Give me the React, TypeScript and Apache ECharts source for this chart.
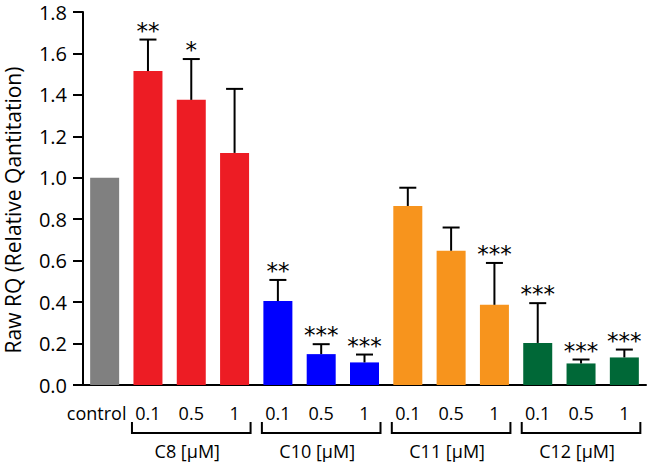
import React, { useEffect, useRef } from 'react';
import * as echarts from 'echarts';

const categories = ['control', '0.1', '0.5', '1', '0.1', '0.5', '1', '0.1', '0.5', '1', '0.1', '0.5', '1'];
const values = [1.0, 1.515, 1.376, 1.12, 0.405, 0.149, 0.109, 0.864, 0.648, 0.387, 0.203, 0.104, 0.133];
const errorTops = [null, 1.667, 1.573, 1.429, 0.507, 0.197, 0.147, 0.952, 0.76, 0.589, 0.395, 0.123, 0.171];
const stars = ['', '**', '*', '', '**', '***', '***', '', '', '***', '***', '***', '***'];
const barColors = [
  '#808080',
  '#ed1c24', '#ed1c24', '#ed1c24',
  '#0000ff', '#0000ff', '#0000ff',
  '#f7941d', '#f7941d', '#f7941d',
  '#006837', '#006837', '#006837',
];
const groupLabels = ['C8 [µM]', 'C10 [µM]', 'C11 [µM]', 'C12 [µM]'];
const groupStarts = [1, 4, 7, 10];
const yMax = 1.8;
const yInterval = 0.2;
const yTitle = 'Raw RQ (Relative Qantitation)';

const FONT = '"Open Sans", sans-serif';
const STAR_FONT = '"DejaVu Sans", sans-serif';

export default function App() {
  const ref = useRef<HTMLDivElement>(null);
  useEffect(() => {
    if (!ref.current) return;
    const chart = echarts.init(ref.current, undefined, { renderer: 'svg' });
    const errData = errorTops
      .map((t, i) => (t == null ? null : [i, t, values[i]]))
      .filter((d) => d != null);
    const starData = stars
      .map((s, i) => (s ? [i, errorTops[i] ?? values[i]] : null))
      .filter((d) => d != null);
    chart.setOption({
      animation: false,
      textStyle: { fontFamily: FONT },
      grid: { left: 83, right: 5, top: 12, bottom: 79, containLabel: false },
      xAxis: {
        type: 'category',
        data: categories,
        axisLine: { lineStyle: { color: '#000', width: 2 } },
        axisTick: { alignWithLabel: true, length: 7, lineStyle: { color: '#000', width: 2 } },
        axisLabel: {
          color: '#000',
          fontSize: 18,
          margin: 19,
          fontFamily: FONT,
          interval: 0,
          formatter: (v: string, i: number) => (i === 0 ? '{c|' + v + '}' : v),
          rich: { c: { fontSize: 18, fontFamily: FONT, color: '#000', padding: [0, 16, 0, 0] } },
        },
      },
      yAxis: {
        type: 'value',
        min: 0,
        max: yMax,
        interval: yInterval,
        axisLine: { show: true, lineStyle: { color: '#000', width: 2 } },
        axisTick: { show: true, length: 10, lineStyle: { color: '#000', width: 2 } },
        splitLine: { show: false },
        axisLabel: {
          color: '#000',
          fontSize: 20,
          lineHeight: 20,
          margin: 16,
          fontFamily: FONT,
          formatter: (v: number) => v.toFixed(1),
        },
      },
      series: [
        {
          type: 'bar',
          barWidth: 29,
          data: values.map((v, i) => ({ value: v, itemStyle: { color: barColors[i] } })),
        },
        {
          type: 'custom',
          data: errData,
          z: 3,
          renderItem: (params: any, api: any) => {
            const i = api.value(0);
            const top = api.coord([i, api.value(1)]);
            const base = api.coord([i, api.value(2)]);
            const st = { stroke: '#000', lineWidth: 2 };
            return {
              type: 'group',
              children: [
                { type: 'line', shape: { x1: top[0], y1: top[1], x2: base[0], y2: base[1] }, style: st },
                { type: 'line', shape: { x1: top[0] - 8.5, y1: top[1], x2: top[0] + 8.5, y2: top[1] }, style: st },
              ],
            };
          },
        },
        {
          type: 'custom',
          data: starData,
          z: 4,
          clip: false,
          renderItem: (params: any, api: any) => {
            const i = api.value(0);
            const p = api.coord([i, api.value(1)]);
            return {
              type: 'text',
              style: {
                text: stars[i],
                x: p[0],
                y: p[1] - 9,
                align: 'center',
                verticalAlign: 'middle',
                fontSize: 23,
                fontFamily: STAR_FONT,
                fill: '#000',
              },
            };
          },
        },
      ],
    });

    const graphics: any[] = [];
    const y0 = chart.convertToPixel({ yAxisIndex: 0 }, 0) as number;
    const half = 16;
    groupStarts.forEach((s, g) => {
      const xa = chart.convertToPixel({ xAxisIndex: 0 }, s) as number;
      const xb = chart.convertToPixel({ xAxisIndex: 0 }, s + 2) as number;
      const xm = chart.convertToPixel({ xAxisIndex: 0 }, s + 1) as number;
      graphics.push({
        type: 'polyline',
        shape: {
          points: [
            [xa - half, y0 + 37],
            [xa - half, y0 + 48],
            [xb + half, y0 + 48],
            [xb + half, y0 + 37],
          ],
        },
        style: { stroke: '#000', lineWidth: 2, fill: 'none' },
      });
      graphics.push({
        type: 'text',
        x: xm - 4,
        y: y0 + 66,
        style: {
          text: groupLabels[g],
          align: 'center',
          verticalAlign: 'middle',
          fontSize: 18,
          fontFamily: FONT,
          fill: '#000',
        },
      });
    });
    graphics.push({
      type: 'text',
      x: 13,
      y: 210,
      rotation: Math.PI / 2,
      style: {
        text: yTitle,
        align: 'center',
        verticalAlign: 'middle',
        fontSize: 21,
        fontFamily: FONT,
        fill: '#000',
      },
    });
    chart.setOption({ graphic: graphics });
    return () => chart.dispose();
  }, []);
  return <div ref={ref} style={{ width: 651, height: 464, position: 'absolute', left: 0, top: 0 }} />;
}
